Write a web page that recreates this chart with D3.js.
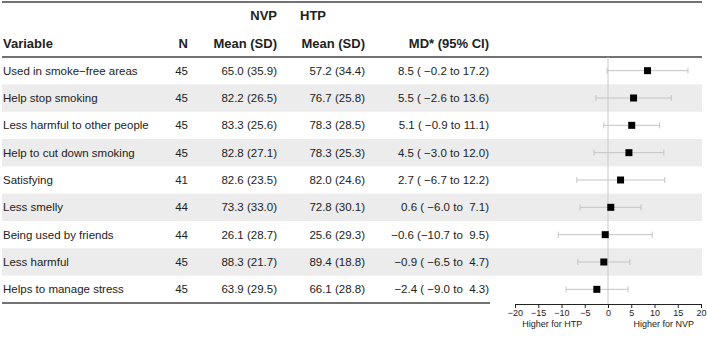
<!DOCTYPE html>
<html>
<head>
<meta charset="utf-8">
<script src="https://cdn.jsdelivr.net/npm/d3@7"></script>
<style>
  body { margin: 0; background: #fff; }
  text { font-family: 'Liberation Sans', Arial, sans-serif; fill: #222; }
</style>
</head>
<body>
<div id="chart"></div>
<script>
// Data
const variables = [
  'Used in smoke\u2212free areas', 'Help stop smoking', 'Less harmful to other people',
  'Help to cut down smoking', 'Satisfying', 'Less smelly', 'Being used by friends',
  'Less harmful', 'Helps to manage stress'
]
const nValues = [45, 45, 45, 45, 41, 44, 44, 45, 45]
const nvpMean = [65.0, 82.2, 83.3, 82.8, 82.6, 73.3, 26.1, 88.3, 63.9]
const nvpSd = [35.9, 26.5, 25.6, 27.1, 23.5, 33.0, 28.7, 21.7, 29.5]
const htpMean = [57.2, 76.7, 78.3, 78.3, 82.0, 72.8, 25.6, 89.4, 66.1]
const htpSd = [34.4, 25.8, 28.5, 25.3, 24.6, 30.1, 29.3, 18.8, 28.8]
const md = [8.5, 5.5, 5.1, 4.5, 2.7, 0.6, -0.6, -0.9, -2.4]
const ciLow = [-0.2, -2.6, -0.9, -3.0, -6.7, -6.0, -10.7, -6.5, -9.0]
const ciHigh = [17.2, 13.6, 11.1, 12.0, 12.2, 7.1, 9.5, 4.7, 4.3]
const xTicks = [-20, -15, -10, -5, 0, 5, 10, 15, 20]

const rows = variables.map((v, i) => ({
  v, n: nValues[i], nm: nvpMean[i], ns: nvpSd[i], hm: htpMean[i], hs: htpSd[i],
  md: md[i], lo: ciLow[i], hi: ciHigh[i]
}))

const W = 707, H = 337
const tableTop = 57, tableBottom = 303

const fmt = v => (v < 0 ? '\u2212' : '') + Math.abs(v).toFixed(1)
const pad = (s, n) => ' '.repeat(Math.max(0, n - s.length)) + s

const svg = d3.select('#chart').append('svg')
  .attr('width', W).attr('height', H)

const y = d3.scaleBand().domain(d3.range(rows.length))
  .range([tableTop, tableBottom])
const x = d3.scaleLinear().domain([-20, 20]).range([515, 701])

// Row shading
svg.append('g').selectAll('rect')
  .data(rows.filter((d, i) => i % 2 === 1))
  .enter().append('rect')
  .attr('x', 2).attr('width', 700)
  .attr('y', d => y(rows.indexOf(d)))
  .attr('height', y.bandwidth())
  .attr('fill', '#ececec')

// Rules
svg.append('line').attr('x1', 2).attr('x2', 702).attr('y1', 2).attr('y2', 2)
  .attr('stroke', '#444').attr('stroke-width', 1.5)
svg.append('line').attr('x1', 2).attr('x2', 702).attr('y1', tableTop).attr('y2', tableTop)
  .attr('stroke', '#444').attr('stroke-width', 1.5)
svg.append('line').attr('x1', 2).attr('x2', 490).attr('y1', tableBottom).attr('y2', tableBottom)
  .attr('stroke', '#444').attr('stroke-width', 1.5)

// Headers
const hdr = svg.append('g').style('font-size', '13px').style('font-weight', 'bold')
hdr.append('text').attr('x', 277).attr('y', 19.5).attr('text-anchor', 'end').text('NVP')
hdr.append('text').attr('x', 300).attr('y', 19.5).text('HTP')
hdr.append('text').attr('x', 3).attr('y', 47.5).text('Variable')
hdr.append('text').attr('x', 188).attr('y', 47.5).attr('text-anchor', 'end').text('N')
hdr.append('text').attr('x', 277).attr('y', 47.5).attr('text-anchor', 'end').text('Mean (SD)')
hdr.append('text').attr('x', 365).attr('y', 47.5).attr('text-anchor', 'end').text('Mean (SD)')
hdr.append('text').attr('x', 489).attr('y', 47.5).attr('text-anchor', 'end').text('MD* (95% CI)')

// Table body
const body = svg.append('g').style('font-size', '11.5px')
const rowG = body.selectAll('g.row').data(rows).enter().append('g')
  .attr('class', 'row')
  .attr('transform', (d, i) => `translate(0, ${y(i) + y.bandwidth() / 2 + 4})`)

rowG.append('text').attr('x', 3).text(d => d.v)
rowG.append('text').attr('x', 188).attr('text-anchor', 'end').text(d => d.n)
rowG.append('text').attr('x', 277).attr('text-anchor', 'end')
  .text(d => `${fmt(d.nm)} (${fmt(d.ns)})`)
rowG.append('text').attr('x', 365).attr('text-anchor', 'end')
  .text(d => `${fmt(d.hm)} (${fmt(d.hs)})`)
rowG.append('text').attr('x', 489).attr('text-anchor', 'end')
  .attr('xml:space', 'preserve').style('white-space', 'pre')
  .text(d => `${fmt(d.md)} (${pad(fmt(d.lo), 5)} to ${pad(fmt(d.hi), 4)})`)

// Forest plot
const axisY = 304
svg.append('line')
  .attr('x1', x(0)).attr('x2', x(0))
  .attr('y1', tableTop).attr('y2', axisY)
  .attr('stroke', '#c8c8c8').attr('stroke-width', 1)

const ci = svg.append('g').attr('stroke', '#c4c4c4').attr('stroke-width', 1)
rows.forEach((d, i) => {
  const cy = y(i) + y.bandwidth() / 2
  ci.append('line').attr('x1', x(d.lo)).attr('x2', x(d.hi)).attr('y1', cy).attr('y2', cy)
  ci.append('line').attr('x1', x(d.lo)).attr('x2', x(d.lo)).attr('y1', cy - 3).attr('y2', cy + 3)
  ci.append('line').attr('x1', x(d.hi)).attr('x2', x(d.hi)).attr('y1', cy - 3).attr('y2', cy + 3)
})

svg.append('g').selectAll('rect')
  .data(rows).enter().append('rect')
  .attr('x', d => x(d.md) - 3.5)
  .attr('y', (d, i) => y(i) + y.bandwidth() / 2 - 3.5)
  .attr('width', 7).attr('height', 7)
  .attr('fill', '#000')

// Axis
const axis = svg.append('g')
  .attr('transform', `translate(0, ${axisY})`)
  .call(d3.axisBottom(x).tickValues(xTicks).tickSize(4).tickPadding(2)
    .tickSizeOuter(4).tickFormat(d => (d < 0 ? '\u2212' : '') + Math.abs(d)))
axis.select('.domain').attr('stroke', '#222')
axis.selectAll('.tick line').attr('stroke', '#222')
axis.selectAll('.tick text')
  .style('font-family', "'Liberation Sans', Arial, sans-serif")
  .style('font-size', '9px').attr('fill', '#333')

svg.append('text').attr('x', x(-12)).attr('y', 327).attr('text-anchor', 'middle')
  .style('font-size', '9px').attr('fill', '#333').text('Higher for HTP')
svg.append('text').attr('x', x(12)).attr('y', 327).attr('text-anchor', 'middle')
  .style('font-size', '9px').attr('fill', '#333').text('Higher for NVP')
</script>
</body>
</html>
